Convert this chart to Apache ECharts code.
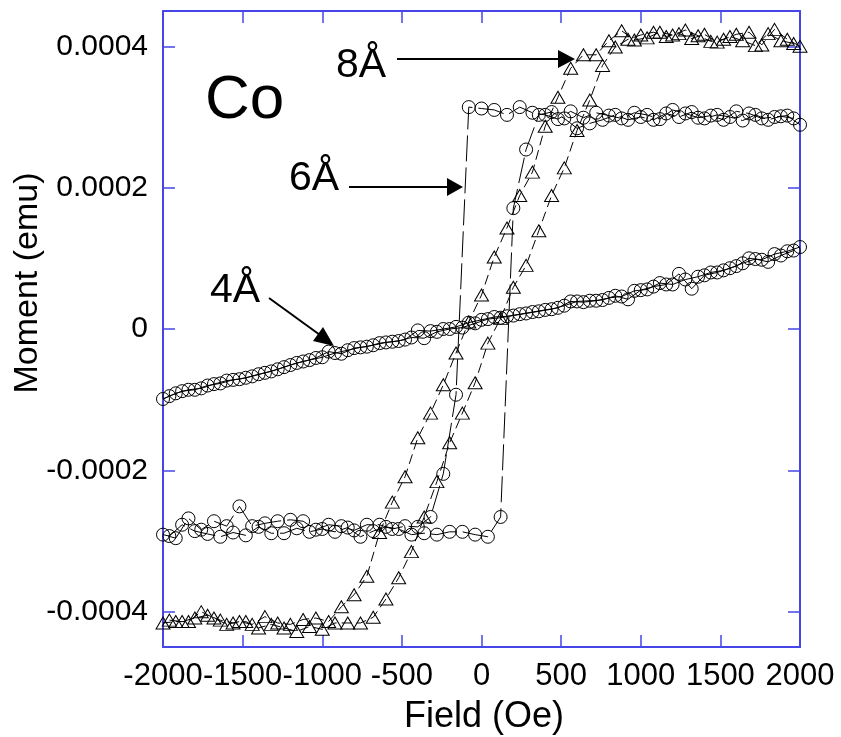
<!DOCTYPE html>
<html><head><meta charset="utf-8">
<script src="https://cdn.jsdelivr.net/npm/echarts@6/dist/echarts.min.js"></script>
<style>html,body{margin:0;padding:0;background:#fff}#c{width:841px;height:737px}</style>
</head><body><div id="c"></div>
<script>
// Field values (Oe): descending sweep +2000 -> -2000, then ascending sweep
const FIELD_DOWN = [2000,1920,1840,1760,1680,1600,1520,1440,1360,1280,1200,1120,1040,960,880,800,720,640,560,480,400,320,240,160,80,0,-80,-160,-240,-320,-400,-480,-560,-640,-720,-800,-880,-960,-1040,-1120,-1200,-1280,-1360,-1440,-1520,-1600,-1680,-1760,-1840,-1920,-2000];
const FIELD_UP = [-1960,-1880,-1800,-1720,-1640,-1560,-1480,-1400,-1320,-1240,-1160,-1080,-1000,-920,-840,-760,-680,-600,-520,-440,-360,-280,-200,-120,-40,40,120,200,280,360,440,520,600,680,760,840,920,1000,1080,1160,1240,1320,1400,1480,1560,1640,1720,1800,1880,1960];

// Moments in micro-emu (1e-6 emu)
const M4_DOWN = [116,110,106,98,100,89,83,80,74,70,63,65,56,54,46,44,40,38,39,30,27,24,21,18,17,13,9,3,0,-3,-2,-15,-18,-20,-25,-27,-35,-32,-41,-46,-51,-57,-62,-67,-71,-73,-78,-84,-86,-91,-99];
const M4_UP = [-95,-88,-86,-80,-77,-72,-69,-64,-60,-54,-48,-44,-40,-34,-30,-26,-23,-19,-17,-12,-13,-4,0,2,8,14,16,19,22,25,28,33,39,40,41,47,42,55,60,63,78,57,76,80,86,93,99,95,104,111];

const M6_DOWN = [289,302,300,298,305,308,296,302,299,305,310,297,303,306,298,302,306,299,308,297,303,306,314,303,310,312,314,-93,-205,-266,-280,-279,-283,-277,-277,-285,-279,-277,-284,-272,-270,-272,-275,-279,-251,-279,-272,-284,-268,-296,-291];
const M6_UP = [-293,-277,-286,-290,-294,-288,-292,-280,-289,-289,-282,-287,-283,-287,-281,-294,-286,-280,-283,-291,-289,-291,-287,-287,-291,-294,-266,171,254,303,307,298,284,291,296,303,296,300,296,305,300,307,298,303,300,295,303,296,301,298];

const M8_DOWN = [400,410,424,402,420,417,410,407,415,423,416,420,412,409,422,408,388,388,369,328,287,222,189,143,102,48,10,-34,-79,-119,-154,-209,-245,-288,-350,-376,-393,-414,-409,-411,-418,-416,-407,-418,-414,-418,-409,-400,-414,-414,-416];
const M8_UP = [-412,-414,-409,-405,-412,-416,-414,-423,-418,-423,-428,-421,-425,-416,-416,-416,-408,-382,-352,-315,-266,-216,-161,-119,-76,-20,15,59,90,139,189,228,281,324,373,399,410,416,420,414,418,411,417,406,414,408,401,418,408,404];

const UNIT = 1e-6;
const Y_TICKS = [-0.0004,-0.0002,0,0.0002,0.0004];
const Y_TICK_LABELS = ['-0.0004','-0.0002','0','0.0002','0.0004'];

function loop(down, up){
  return FIELD_DOWN.map((f,i)=>[f, down[i]*UNIT]).concat(FIELD_UP.map((f,i)=>[f, up[i]*UNIT]));
}
const FONT = '"Liberation Sans", Arial, sans-serif';
const FRAME = '#4646e8';

const chart = echarts.init(document.getElementById('c'), null, {renderer:'canvas'});
const yLabel = v => { const k = Y_TICKS.findIndex(t => Math.abs(t - v) < 1e-9); return k >= 0 ? Y_TICK_LABELS[k] : ''; };

chart.setOption({
  animation:false,
  backgroundColor:'#fff',
  grid:{left:163, right:41, top:11, bottom:90},
  xAxis:[{
    type:'value', min:-2000, max:2000, interval:500,
    axisLine:{show:true, onZero:false, lineStyle:{color:FRAME, width:2}},
    axisTick:{show:true, inside:true, length:12, lineStyle:{color:FRAME, width:1.5}},
    axisLabel:{color:'#000', fontSize:31, fontFamily:FONT, margin:14, formatter:v=>String(v), showMinLabel:true, showMaxLabel:true, hideOverlap:false},
    splitLine:{show:false}
  },{
    type:'value', position:'top', min:-2000, max:2000, interval:500,
    axisLine:{show:true, onZero:false, lineStyle:{color:FRAME, width:2}},
    axisTick:{show:true, inside:true, length:12, lineStyle:{color:FRAME, width:1.5}},
    axisLabel:{show:false}, splitLine:{show:false}
  }],
  yAxis:[{
    type:'value', min:-0.00045, max:0.00045,
    axisLine:{show:true, onZero:false, lineStyle:{color:FRAME, width:2}},
    axisTick:{show:true, inside:true, length:12, customValues:Y_TICKS, lineStyle:{color:FRAME, width:1.5}},
    axisLabel:{color:'#000', fontSize:30, fontFamily:FONT, margin:15, customValues:Y_TICKS, formatter:yLabel},
    splitLine:{show:false}
  },{
    type:'value', position:'right', min:-0.00045, max:0.00045,
    axisLine:{show:true, onZero:false, lineStyle:{color:FRAME, width:2}},
    axisTick:{show:true, inside:true, length:12, customValues:Y_TICKS, lineStyle:{color:FRAME, width:1.5}},
    axisLabel:{show:false}, splitLine:{show:false}
  }],
  series:[
    {name:'4Å', type:'line', data:loop(M4_DOWN, M4_UP), symbol:'circle', symbolSize:13,
     itemStyle:{color:'rgba(0,0,0,0)', borderColor:'#000', borderWidth:1},
     lineStyle:{color:'#000', width:1, type:'solid'}, z:3},
    {name:'6Å', type:'line', data:loop(M6_DOWN, M6_UP), symbol:'circle', symbolSize:13,
     itemStyle:{color:'rgba(0,0,0,0)', borderColor:'#000', borderWidth:1},
     lineStyle:{color:'#000', width:1, type:[26,6]}, z:3},
    {name:'8Å', type:'line', data:loop(M8_DOWN, M8_UP), symbol:'triangle', symbolSize:[14,12],
     itemStyle:{color:'rgba(0,0,0,0)', borderColor:'#000', borderWidth:1},
     lineStyle:{color:'#000', width:1, type:[10,5]}, z:3}
  ],
  graphic:[
    {type:'text', x:205, y:101, style:{text:'Co', font:'62px '+FONT, fill:'#000', align:'left', verticalAlign:'middle'}},
    {type:'text', x:336, y:66, style:{text:'8Å', font:'41px '+FONT, fill:'#000', align:'left', verticalAlign:'middle'}},
    {type:'text', x:289, y:179, style:{text:'6Å', font:'41px '+FONT, fill:'#000', align:'left', verticalAlign:'middle'}},
    {type:'text', x:210, y:291, style:{text:'4Å', font:'41px '+FONT, fill:'#000', align:'left', verticalAlign:'middle'}},
    {type:'line', shape:{x1:397, y1:59, x2:560, y2:59}, style:{stroke:'#000', lineWidth:2}},
    {type:'polygon', shape:{points:[[575,59],[558,50],[558,68]]}, style:{fill:'#000'}},
    {type:'line', shape:{x1:349, y1:187, x2:450, y2:187}, style:{stroke:'#000', lineWidth:2}},
    {type:'polygon', shape:{points:[[463,187],[447,178],[447,196]]}, style:{fill:'#000'}},
    {type:'line', shape:{x1:269, y1:298, x2:320, y2:335}, style:{stroke:'#000', lineWidth:2}},
    {type:'polygon', shape:{points:[[334,346],[313,341],[323,327]]}, style:{fill:'#000'}},
    {type:'text', x:484, y:717, style:{text:'Field (Oe)', font:'36px '+FONT, fill:'#000', align:'center', verticalAlign:'middle'}},
    {type:'text', x:28, y:283, rotation:Math.PI/2, style:{text:'Moment (emu)', font:'34px '+FONT, fill:'#000', align:'center', verticalAlign:'middle'}}
  ]
});
</script></body></html>
